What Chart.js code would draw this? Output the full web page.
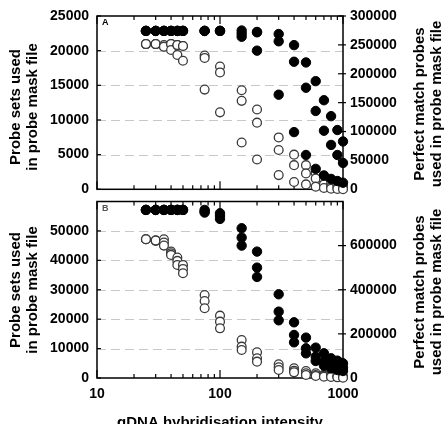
<!DOCTYPE html>
<html>
<head>
<meta charset="utf-8">
<script src="https://cdn.jsdelivr.net/npm/chart.js@4.4.1/dist/chart.umd.min.js"></script>
<style>
  body { margin: 0; background: #fff; }
  #wrap { position: relative; width: 448px; height: 424px; overflow: hidden; }
  canvas { position: absolute; left: 0; }
</style>
</head>
<body>
<div id="wrap">
  <canvas id="chartA" width="448" height="195" style="top:0"></canvas>
  <canvas id="chartB" width="448" height="229" style="top:195px"></canvas>
</div>
<script>
Chart.defaults.font.family = "'Liberation Sans', Arial, Helvetica, sans-serif";
Chart.defaults.color = "#000";

// gDNA intensity cut-offs (x)
const thresholds = [25, 30, 35, 40, 45, 50, 75, 100, 150, 200, 300, 400, 500, 600, 700, 800, 900, 1000];

// panel A: probe sets kept (filled, left axis), three replicates per cut-off
const setsA = [
  [22850, 22850, 22850], [22850, 22850, 22850], [22850, 22850, 22850],
  [22850, 22850, 22850], [22850, 22850, 22850], [22850, 22850, 22850],
  [22850, 22850, 22850], [22850, 22850, 22850], [22900, 22450, 22000],
  [22700, 22650, 20000], [22400, 21350, 13650], [20800, 18400, 8250],
  [18300, 14650, 4950], [15600, 11300, 2950], [12850, 8450, 2000],
  [10550, 6400, 1500], [8550, 4950, 1200], [6900, 3800, 950]
];
// panel A: perfect match probes kept (open, right axis)
const pmA = [
  [251400, 251400, 251400], [251400, 251400, 251400], [249600, 246800, 246800],
  [251400, 251400, 241200], [249700, 249700, 232600], [248000, 248000, 222600],
  [231500, 227400, 172600], [212500, 202300, 133200], [171500, 153100, 81100],
  [138200, 115400, 51500], [89800, 68000, 24600], [60000, 41800, 12600],
  [41800, 27500, 8500], [28600, 18800, 4600], [15500, 8500, 2300],
  [10300, 4600, 1100], [7400, 2900, 600], [5800, 2300, 0]
];

// panel B: probe sets kept (filled, left axis)
const setsB = [
  [57140, 57140, 57140], [57140, 57140, 57140], [57140, 57140, 57140],
  [57140, 57140, 57140], [57140, 57140, 57140], [57140, 57140, 57140],
  [57140, 56600, 56240], [56010, 55100, 54080], [50910, 47730, 45010],
  [42970, 37530, 34350], [28460, 22560, 19610], [18930, 14630, 12130],
  [13720, 10090, 8390], [10320, 7260, 5780], [8390, 5560, 4200],
  [6690, 4420, 3290], [5900, 3850, 2720], [4990, 3510, 2380]
];
// panel B: perfect match probes kept (open, right axis)
const pmB = [
  [629000, 629000, 629000], [622800, 622800, 622800], [629000, 613700, 600100],
  [573000, 565300, 557900], [545700, 530700, 512500], [512500, 494300, 474700],
  [376400, 349200, 316000], [282700, 255500, 225200], [172400, 142100, 126900],
  [116400, 89200, 74100], [62000, 48400, 36300], [43900, 33200, 25700],
  [31700, 21200, 13600], [21200, 13600, 9100], [15100, 10500, 6000],
  [12000, 7600, 4500], [10500, 6000, 3100], [7600, 4500, 1500]
];

// tick labels
const leftTicksA = [0, 5000, 10000, 15000, 20000, 25000];
const rightTicksA = [0, 50000, 100000, 150000, 200000, 250000, 300000];
const leftTicksB = [0, 10000, 20000, 30000, 40000, 50000];
const rightTicksB = [0, 200000, 400000, 600000];
const xTicks = [10, 100, 1000];

function toPoints(rows) {
  return thresholds.flatMap((t, i) => rows[i].map(v => ({ x: t, y: v })));
}

// box, dashed grid, inward ticks, titles
const framePlugin = {
  id: "frame",
  beforeDatasetsDraw(chart, args, opts) {
    const { ctx, chartArea: a, scales } = chart;
    ctx.save();
    ctx.strokeStyle = "#c8c8c8";
    ctx.lineWidth = 1;
    ctx.setLineDash([9, 5]);
    opts.leftTicks.forEach(v => {
      if (v === 0 || v >= scales.y.max) return;
      const y = Math.round(scales.y.getPixelForValue(v)) + 0.5;
      ctx.beginPath();
      ctx.moveTo(a.left, y);
      ctx.lineTo(a.right, y);
      ctx.stroke();
    });
    ctx.setLineDash([]);

    ctx.strokeStyle = "#000";
    ctx.lineWidth = 1.5;
    ctx.strokeRect(a.left, a.top, a.right - a.left, a.bottom - a.top);

    // x ticks on bottom and top, pointing in
    ctx.lineWidth = 1.2;
    for (let d = 10; d <= 1000; d *= 10) {
      for (let k = 1; k <= 9; k++) {
        const v = d * k;
        if (v > 1000) break;
        const x = scales.x.getPixelForValue(v);
        const len = k === 1 ? 8 : 4;
        ctx.beginPath();
        ctx.moveTo(x, a.bottom);
        ctx.lineTo(x, a.bottom - len);
        ctx.moveTo(x, a.top);
        ctx.lineTo(x, a.top + len);
        ctx.stroke();
      }
    }
    // left ticks
    opts.leftTicks.forEach(v => {
      const y = scales.y.getPixelForValue(v);
      ctx.beginPath();
      ctx.moveTo(a.left, y);
      ctx.lineTo(a.left + 4, y);
      ctx.stroke();
    });
    // right ticks, crossing the axis
    opts.rightTicks.forEach(v => {
      const y = scales.y2.getPixelForValue(v);
      ctx.beginPath();
      ctx.moveTo(a.right - 5, y);
      ctx.lineTo(a.right + 3, y);
      ctx.stroke();
    });
    ctx.restore();
  },
  afterDraw(chart, args, opts) {
    const { ctx, chartArea: a } = chart;
    ctx.save();
    ctx.fillStyle = opts.letterColor;
    ctx.font = "bold 9px 'Liberation Sans', Arial, sans-serif";
    ctx.textAlign = "left";
    ctx.textBaseline = "middle";
    ctx.fillText(opts.letter, a.left + 5, a.top + 7);

    ctx.fillStyle = "#000";
    ctx.font = "bold 15px 'Liberation Sans', Arial, sans-serif";
    ctx.textAlign = "center";
    const vtext = (x, y, s) => {
      ctx.save();
      ctx.translate(x, y);
      ctx.rotate(-Math.PI / 2);
      ctx.fillText(s, 0, 0);
      ctx.restore();
    };
    vtext(16, opts.leftY, "Probe sets used");
    vtext(33, opts.leftY, "in probe mask file");
    vtext(420, opts.rightY, "Perfect match probes");
    vtext(437, opts.rightY, "used in probe mask file");
    if (opts.xTitle) {
      ctx.textBaseline = "top";
      ctx.fillText("gDNA hybridisation intensity", 220, opts.xTitleY);
    }
    ctx.restore();
  }
};

function noPad(s) {
  s.paddingTop = 0;
  s.paddingBottom = 0;
  s.paddingLeft = 0;
  s.paddingRight = 0;
}

function makePanel(id, cfg) {
  const tickFont = { size: 14, weight: "bold" };
  return new Chart(document.getElementById(id), {
    type: "scatter",
    data: {
      datasets: [
        {
          label: "Probe sets",
          data: toPoints(cfg.sets),
          yAxisID: "y",
          pointRadius: 4.7,
          backgroundColor: "#000",
          borderColor: "#000",
          borderWidth: 1,
          clip: false
        },
        {
          label: "Perfect match probes",
          data: toPoints(cfg.pm),
          yAxisID: "y2",
          pointRadius: 4.4,
          backgroundColor: "#fff",
          borderColor: "#3a3a3a",
          borderWidth: 1.3,
          clip: false
        }
      ]
    },
    options: {
      responsive: false,
      animation: false,
      events: [],
      layout: { padding: { top: cfg.padTop, left: 0, right: 0, bottom: 0 } },
      scales: {
        x: {
          type: "logarithmic",
          min: 10,
          max: 1000,
          grid: { display: false, drawTicks: false },
          border: { display: false },
          ticks: {
            display: cfg.showX,
            font: tickFont,
            padding: 8,
            autoSkip: false,
            maxRotation: 0,
            callback: v => String(v)
          },
          afterBuildTicks: s => { s.ticks = xTicks.map(v => ({ value: v })); },
          afterFit: s => { s.height = cfg.bottomH; noPad(s); }
        },
        y: {
          position: "left",
          min: 0,
          max: cfg.leftMax,
          grid: { display: false, drawTicks: false },
          border: { display: false },
          ticks: { font: tickFont, padding: 8, callback: v => String(v) },
          afterBuildTicks: s => { s.ticks = cfg.leftTicks.map(v => ({ value: v })); },
          afterFit: s => { s.width = 97; noPad(s); }
        },
        y2: {
          position: "right",
          min: 0,
          max: cfg.rightMax,
          grid: { display: false, drawTicks: false },
          border: { display: false },
          ticks: { font: tickFont, padding: 7, callback: v => String(v) },
          afterBuildTicks: s => { s.ticks = cfg.rightTicks.map(v => ({ value: v })); },
          afterFit: s => { s.width = 105; noPad(s); }
        }
      },
      plugins: {
        legend: { display: false },
        tooltip: { enabled: false },
        frame: {
          leftTicks: cfg.leftTicks,
          rightTicks: cfg.rightTicks,
          letter: cfg.letter,
          letterColor: cfg.letterColor,
          leftY: cfg.leftY,
          rightY: cfg.rightY,
          xTitle: cfg.showX,
          xTitleY: 220
        }
      }
    },
    plugins: [framePlugin]
  });
}

makePanel("chartA", {
  sets: setsA, pm: pmA,
  leftMax: 25000, rightMax: 300000,
  leftTicks: leftTicksA, rightTicks: rightTicksA,
  showX: false, padTop: 16, bottomH: 4.5,
  letter: "A", letterColor: "#000",
  leftY: 107, rightY: 104
});

makePanel("chartB", {
  sets: setsB, pm: pmB,
  leftMax: 60000, rightMax: 800000,
  leftTicks: leftTicksB, rightTicks: rightTicksB,
  showX: true, padTop: 6.5, bottomH: 46,
  letter: "B", letterColor: "#555",
  leftY: 95, rightY: 97
});
</script>
</body>
</html>
